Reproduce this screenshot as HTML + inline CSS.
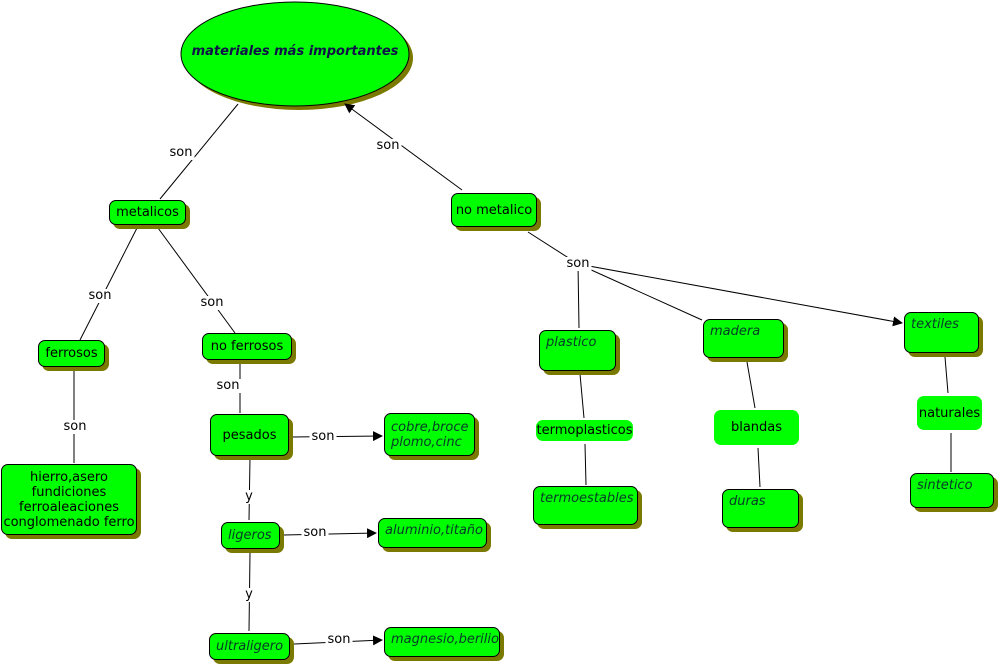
<!DOCTYPE html>
<html><head><meta charset="utf-8"><style>
body{margin:0;width:1000px;height:667px;background:#fff;position:relative;overflow:hidden;font-family:"DejaVu Sans","Liberation Sans",sans-serif;font-size:13px;color:#000}
.b{position:absolute;background:#00ff00;border:1px solid #000;border-radius:7px;box-shadow:4px 4px 0 #7a7a00;box-sizing:border-box;display:flex;align-items:center;justify-content:center;text-align:center;line-height:15px;white-space:nowrap}
.i{font-style:italic;color:#063a2a;justify-content:flex-start;align-items:flex-start;text-align:left;padding:4px 0 0 6px}
.n{border:none;box-shadow:none;border-radius:7px}
.l{position:absolute;background:#fff;padding:0 2px;line-height:14px;transform:translate(-50%,-50%)}
svg{position:absolute;left:0;top:0}
</style></head><body>
<svg width="1000" height="667">
<defs><marker id="a" markerWidth="10" markerHeight="10" refX="9" refY="5" orient="auto" markerUnits="userSpaceOnUse"><path d="M0,0L10,5L0,10z" fill="#000"/></marker></defs>
<g stroke="#000" stroke-width="1" fill="none">
<ellipse cx="299" cy="58" rx="114" ry="52" fill="#7a7a00" stroke="none"/>
<ellipse cx="295" cy="54" rx="114" ry="52" fill="#00ff00"/>
<path d="M238,104L160,199"/>
<path d="M462,190L345,104" marker-end="url(#a)"/>
<path d="M137,228L80,340"/>
<path d="M158,228L235,333"/>
<path d="M74,370L74,463"/>
<path d="M240,363L240,413"/>
<path d="M292,437L382,436" marker-end="url(#a)"/>
<path d="M250,458L249,520"/>
<path d="M284,535L376,533" marker-end="url(#a)"/>
<path d="M250,553L249,631"/>
<path d="M294,644L382,640" marker-end="url(#a)"/>
<path d="M528,232L578,264L579,328"/>
<path d="M578,264L702,320"/>
<path d="M578,264L902,323" marker-end="url(#a)"/>
<path d="M580,374L584,418"/>
<path d="M585,444L586,485"/>
<path d="M747,362L755,408"/>
<path d="M758,448L760,487"/>
<path d="M945,357L948,393"/>
<path d="M951,433L951,472"/>
</g></svg>
<div style="position:absolute;left:181px;top:44px;width:228px;text-align:center;font-weight:bold;font-style:italic;font-size:13px;color:#10104a">materiales más importantes</div>
<div class="l" style="left:181px;top:153px">son</div>
<div class="l" style="left:388px;top:146px">son</div>
<div class="l" style="left:100px;top:296px">son</div>
<div class="l" style="left:212px;top:303px">son</div>
<div class="l" style="left:75px;top:427px">son</div>
<div class="l" style="left:228px;top:386px">son</div>
<div class="l" style="left:323px;top:437px">son</div>
<div class="l" style="left:249px;top:497px">y</div>
<div class="l" style="left:315px;top:533px">son</div>
<div class="l" style="left:249px;top:595px">y</div>
<div class="l" style="left:339px;top:640px">son</div>
<div class="l" style="left:578px;top:264px">son</div>
<div class="b" style="left:109px;top:200px;width:77px;height:25px">metalicos</div>
<div class="b" style="left:451px;top:193px;width:86px;height:34px">no metalico</div>
<div class="b" style="left:38px;top:340px;width:67px;height:27px">ferrosos</div>
<div class="b" style="left:202px;top:333px;width:90px;height:27px">no ferrosos</div>
<div class="b" style="left:1px;top:464px;width:136px;height:71px">hierro,asero<br>fundiciones<br>ferroaleaciones<br>conglomenado ferro</div>
<div class="b" style="left:210px;top:414px;width:79px;height:42px">pesados</div>
<div class="b i" style="left:384px;top:413px;width:91px;height:43px;padding-top:6px">cobre,broce<br>plomo,cinc</div>
<div class="b i" style="left:221px;top:522px;width:59px;height:27px;padding-top:5px">ligeros</div>
<div class="b i" style="left:378px;top:518px;width:109px;height:30px">aluminio,titaño</div>
<div class="b i" style="left:209px;top:633px;width:81px;height:27px;padding-top:5px">ultraligero</div>
<div class="b i" style="left:384px;top:627px;width:116px;height:30px">magnesio,berilio</div>
<div class="b i" style="left:539px;top:330px;width:77px;height:41px">plastico</div>
<div class="b i" style="left:703px;top:319px;width:81px;height:39px">madera</div>
<div class="b i" style="left:904px;top:312px;width:75px;height:41px">textiles</div>
<div class="b n" style="left:536px;top:420px;width:97px;height:21px">termoplasticos</div>
<div class="b n" style="left:714px;top:410px;width:85px;height:35px">blandas</div>
<div class="b n" style="left:917px;top:396px;width:65px;height:34px">naturales</div>
<div class="b i" style="left:533px;top:486px;width:105px;height:39px">termoestables</div>
<div class="b i" style="left:722px;top:489px;width:77px;height:39px">duras</div>
<div class="b i" style="left:910px;top:473px;width:84px;height:35px">sintetico</div>
</body></html>
